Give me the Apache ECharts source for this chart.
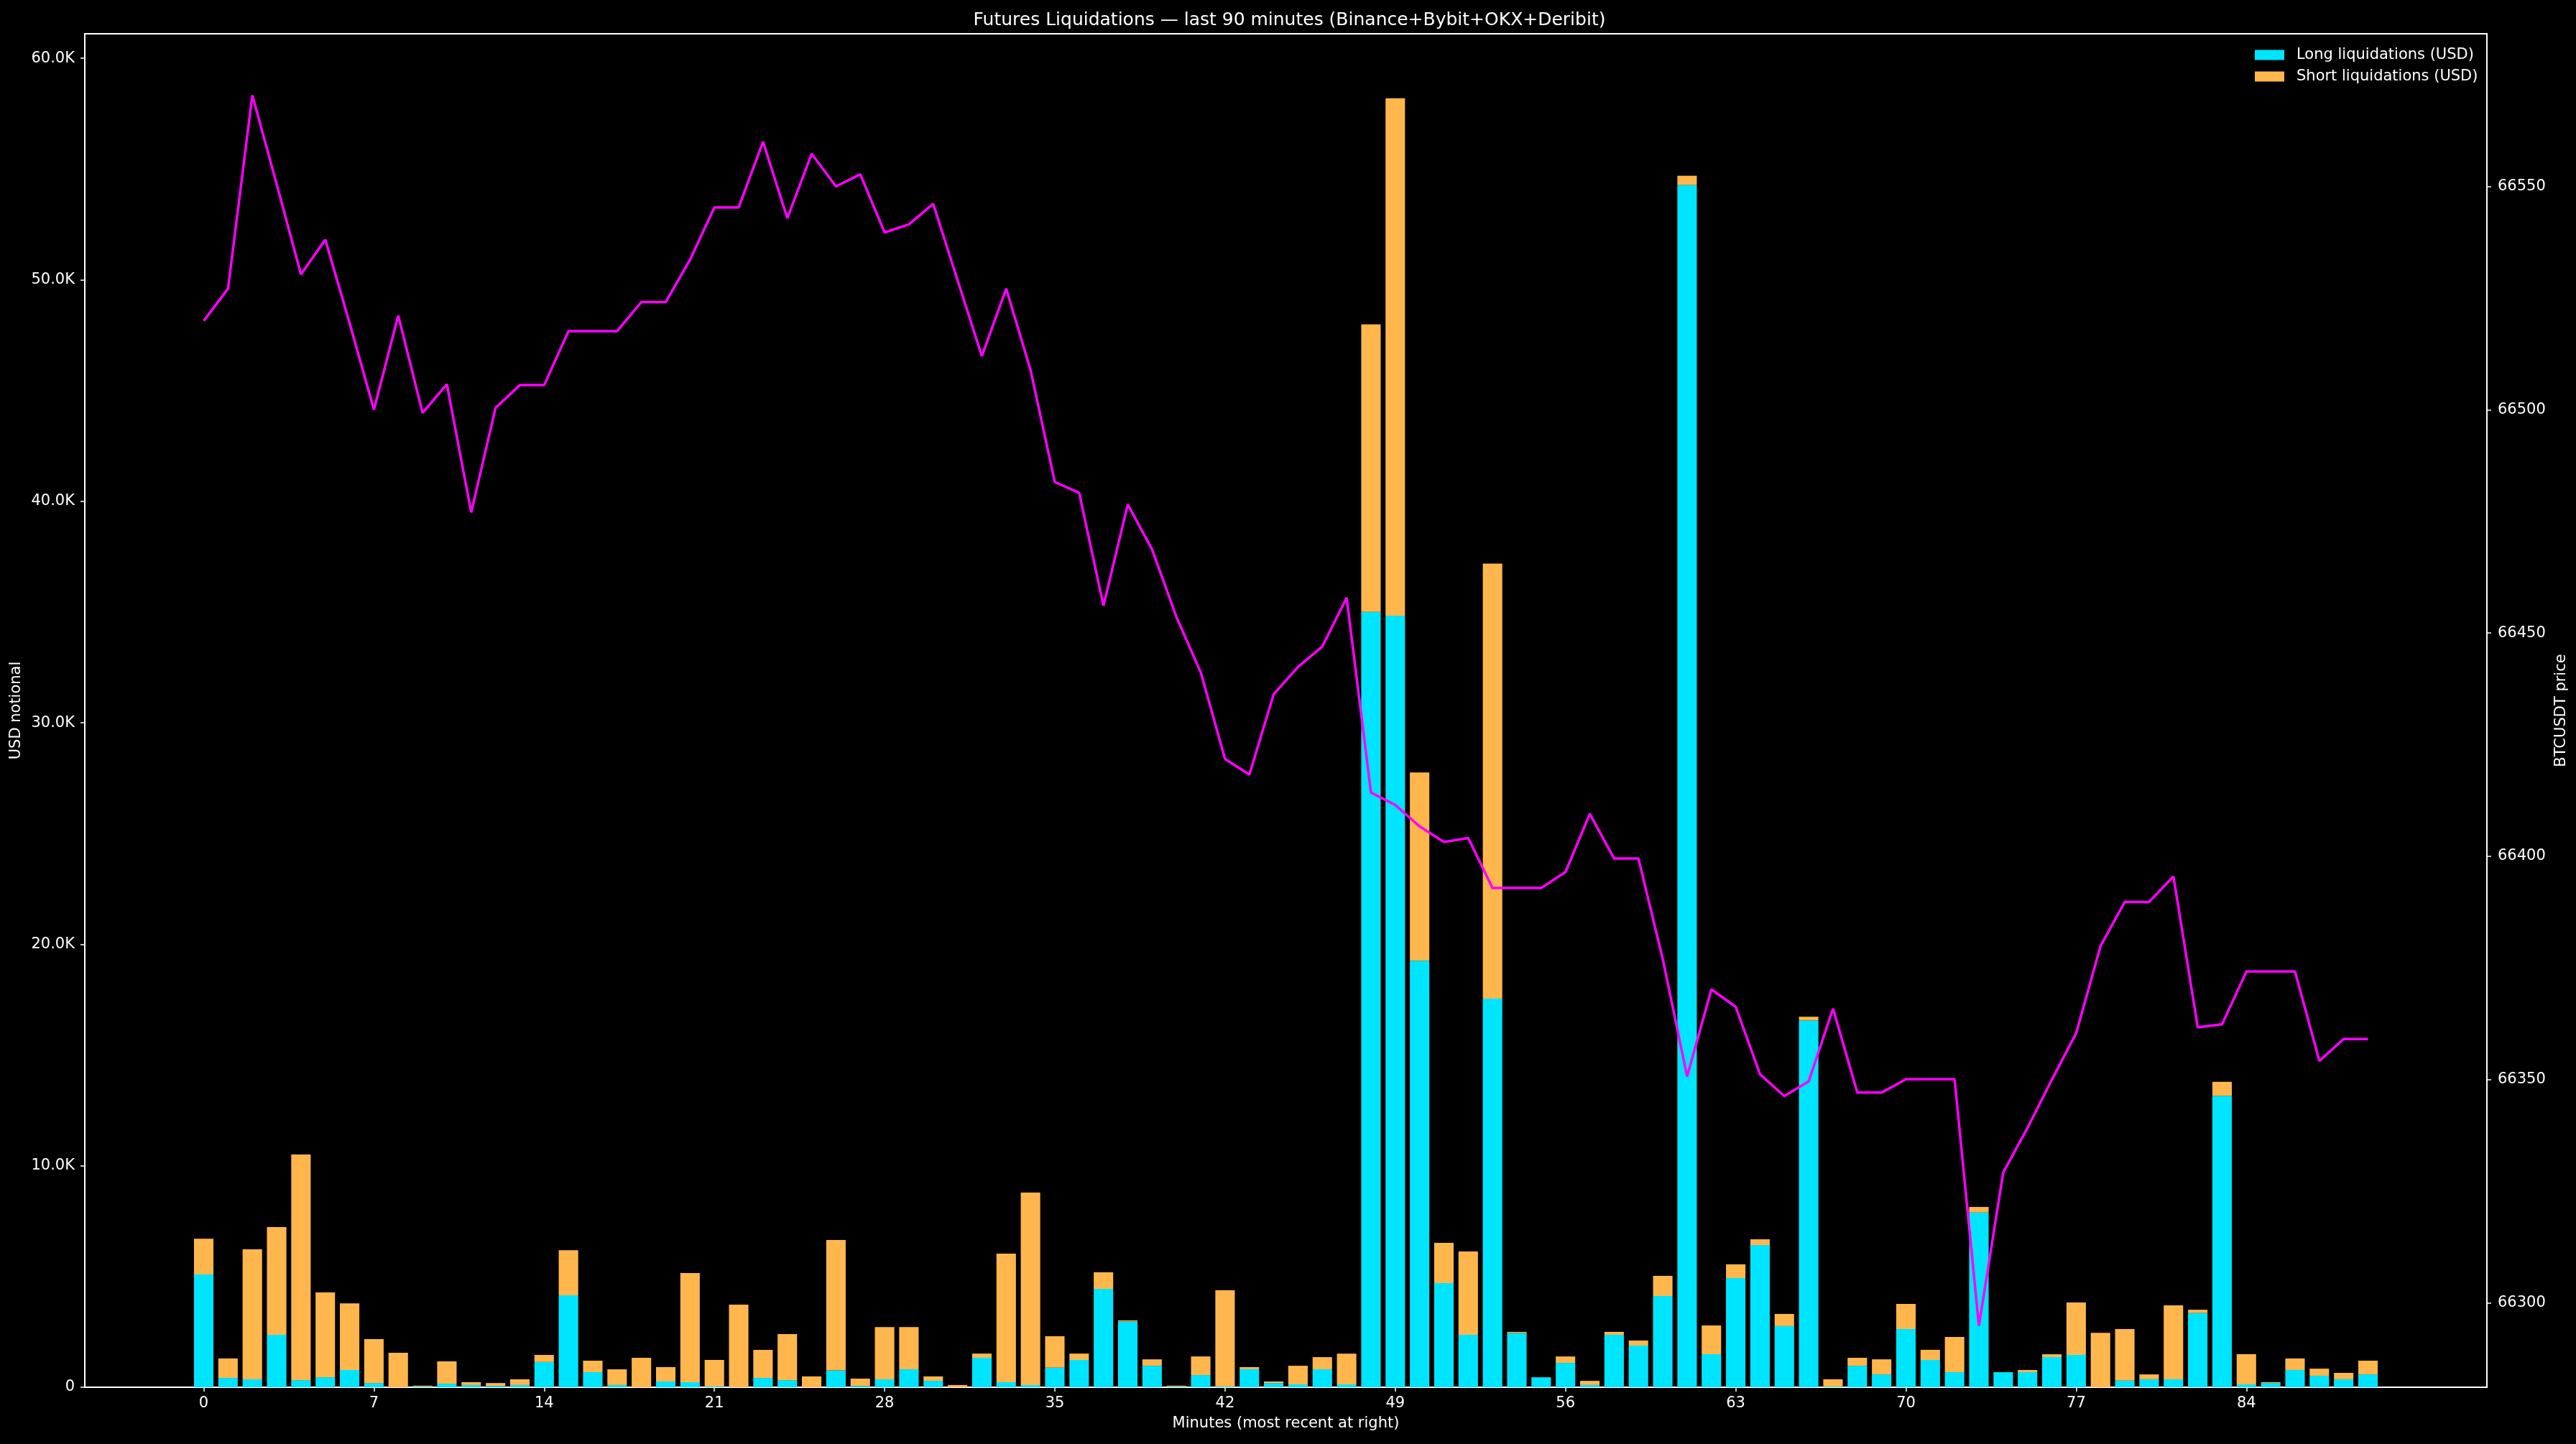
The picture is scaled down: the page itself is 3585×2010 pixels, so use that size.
<!DOCTYPE html>
<html>
<head>
<meta charset="utf-8">
<script src="https://cdn.jsdelivr.net/npm/echarts@6/dist/echarts.min.js"></script>
<style>
html,body{margin:0;padding:0;background:#000;}
#chart{width:3585px;height:2010px;}
</style>
</head>
<body>
<div id="chart"></div>
<script>
// Minute index (most recent at right)
const minutes = [0,1,2,3,4,5,6,7,8,9,10,11,12,13,14,15,16,17,18,19,20,21,22,23,24,25,26,27,28,29,
  30,31,32,33,34,35,36,37,38,39,40,41,42,43,44,45,46,47,48,49,50,51,52,53,54,55,56,57,58,59,
  60,61,62,63,64,65,66,67,68,69,70,71,72,73,74,75,76,77,78,79,80,81,82,83,84,85,86,87,88,89];

// Long liquidations (USD)
const longLiq = [5090,420,360,2370,320,450,780,190,0,30,
  160,100,60,100,1140,4150,680,100,0,260,
  230,30,0,420,320,0,760,60,360,810,
  290,0,1330,230,100,880,1230,4440,2970,970,
  30,550,30,810,190,130,810,130,35010,34840,
  19260,4700,2370,17550,2450,450,1100,100,2370,1880,
  4120,54280,1490,4930,6420,2760,16560,30,970,580,
  2630,1230,680,7890,680,680,1360,1460,0,300,
  360,360,3350,13160,130,190,780,520,360,580];

// Short liquidations (USD)
const shortLiq = [1620,880,5870,4860,10190,3830,3010,1980,1560,40,
  1010,130,130,260,320,2040,520,710,1330,650,
  4930,1200,3730,1270,2080,490,5890,330,2360,1910,
  200,100,190,5800,8690,1420,290,750,50,290,
  40,840,4350,100,70,840,550,1390,12980,23360,
  8500,1820,3760,19640,50,0,290,190,130,230,
  910,420,1300,620,260,550,170,330,360,680,
  1130,460,1590,250,0,100,130,2370,2460,2330,
  220,3340,150,630,1360,40,520,320,290,620];

// BTCUSDT price
const price = [66519.9,66527.1,66570.4,66550.5,66530.3,66538.1,66519.4,66500.0,66521.1,66499.3,
  66505.7,66477.0,66500.4,66505.5,66505.5,66517.6,66517.6,66517.6,66524.1,66524.1,
  66533.6,66545.3,66545.3,66560.0,66542.9,66557.3,66550.0,66552.7,66539.7,66541.5,
  66546.1,66529.0,66512.0,66527.1,66508.9,66483.8,66481.4,66456.1,66478.8,66468.7,
  66453.6,66441.2,66421.8,66418.3,66436.3,66442.4,66447.0,66457.9,66414.3,66411.5,
  66406.7,66403.2,66404.1,66392.9,66392.9,66392.9,66396.5,66409.5,66399.5,66399.5,
  66377.0,66350.7,66370.2,66366.3,66351.2,66346.3,66349.6,66365.9,66347.1,66347.1,
  66350.1,66350.1,66350.1,66294.9,66329.2,66339.2,66350.0,66360.4,66379.9,66389.8,
  66389.8,66395.5,66361.7,66362.4,66374.2,66374.2,66374.2,66354.2,66359.1,66359.1];

// Tick labels
const xTicks = [0,7,14,21,28,35,42,49,56,63,70,77,84];
const yLeftTicks = [0,10000,20000,30000,40000,50000,60000];
const yRightTicks = [66300,66350,66400,66450,66500,66550];

const W = 3585, H = 2010;
const G = {left:118, right:124, top:47, bottom:79};
const plotW = W - G.left - G.right;

// matplotlib-like 5% margins
const xMin = minutes[0] - 0.4, xMax = minutes[minutes.length-1] + 0.4;
const xPad = (xMax - xMin) * 0.05;
const xLo = xMin - xPad, xHi = xMax + xPad;
const totals = longLiq.map((v,i)=>v + shortLiq[i]);
const yLeftMax = Math.max(...totals) * 1.05;
const pMin = Math.min(...price), pMax = Math.max(...price);
const pPad = (pMax - pMin) * 0.05;

const barW = 0.8 * plotW / (xHi - xLo);

const FONT = 'DejaVu Sans';
const txt = {color:'#fff', fontFamily:FONT, fontSize:21};

const chart = echarts.init(document.getElementById('chart'), null, {renderer:'canvas'});
chart.setOption({
  backgroundColor:'#000',
  animation:false,
  textStyle:{fontFamily:FONT},
  title:{
    text:'Futures Liquidations — last 90 minutes (Binance+Bybit+OKX+Deribit)',
    left: G.left + plotW/2, top: 11, textAlign:'center',
    textStyle:{color:'#fff', fontFamily:FONT, fontSize:25, fontWeight:'normal'}
  },
  legend:{
    data:['Long liquidations (USD)','Short liquidations (USD)'],
    orient:'vertical', left:3133, top:61,
    itemWidth:41, itemHeight:14, itemGap:9, icon:'rect',
    textStyle:{color:'#fff', fontFamily:FONT, fontSize:21, padding:[0,0,0,12]}
  },
  grid:{left:G.left, right:G.right, top:G.top, bottom:G.bottom, show:true,
        borderColor:'#fff', borderWidth:2, backgroundColor:'transparent'},
  xAxis:{
    type:'value', min:xLo, max:xHi,
    name:'Minutes (most recent at right)', nameLocation:'middle', nameGap:40,
    nameTextStyle:txt,
    axisLine:{show:true, onZero:false, lineStyle:{color:'#fff', width:2}},
    axisTick:{show:true, length:6, lineStyle:{color:'#fff', width:1.5}, customValues:xTicks},
    axisLabel:{...txt, margin:12, customValues:xTicks, formatter:v=>String(v)},
    splitLine:{show:false}
  },
  yAxis:[{
    type:'value', min:0, max:yLeftMax, position:'left',
    name:'USD notional', nameLocation:'middle', nameGap:85, nameRotate:90,
    nameTextStyle:txt,
    axisLine:{show:true, onZero:false, lineStyle:{color:'#fff', width:2}},
    axisTick:{show:true, length:6, lineStyle:{color:'#fff', width:1.5}, customValues:yLeftTicks},
    axisLabel:{...txt, margin:14, customValues:yLeftTicks,
      formatter:v=> v===0 ? '0' : (v/1000).toFixed(1)+'K'},
    splitLine:{show:false}
  },{
    type:'value', min:pMin - pPad, max:pMax + pPad, position:'right',
    name:'BTCUSDT price', nameLocation:'middle', nameGap:86, nameRotate:90,
    nameTextStyle:txt,
    axisLine:{show:true, onZero:false, lineStyle:{color:'#fff', width:2}},
    axisTick:{show:true, length:6, lineStyle:{color:'#fff', width:1.5}, customValues:yRightTicks},
    axisLabel:{...txt, margin:15, customValues:yRightTicks, formatter:v=>String(Math.round(v))},
    splitLine:{show:false}
  }],
  series:[{
    name:'Long liquidations (USD)', type:'bar', stack:'liq', barWidth:barW,
    itemStyle:{color:'#00e5ff'},
    encode:{x:1, y:0},
    data: minutes.map((m,i)=>[longLiq[i], m])
  },{
    name:'Short liquidations (USD)', type:'bar', stack:'liq', barWidth:barW,
    itemStyle:{color:'#ffb74d'},
    encode:{x:1, y:0},
    data: minutes.map((m,i)=>[shortLiq[i], m])
  },{
    name:'BTCUSDT price', type:'line', yAxisIndex:1, showSymbol:false, symbol:'none',
    lineStyle:{color:'#ff00ff', width:3.5}, itemStyle:{color:'#ff00ff'}, z:5,
    data: minutes.map((m,i)=>[m, price[i]])
  }]
});
</script>
</body>
</html>
